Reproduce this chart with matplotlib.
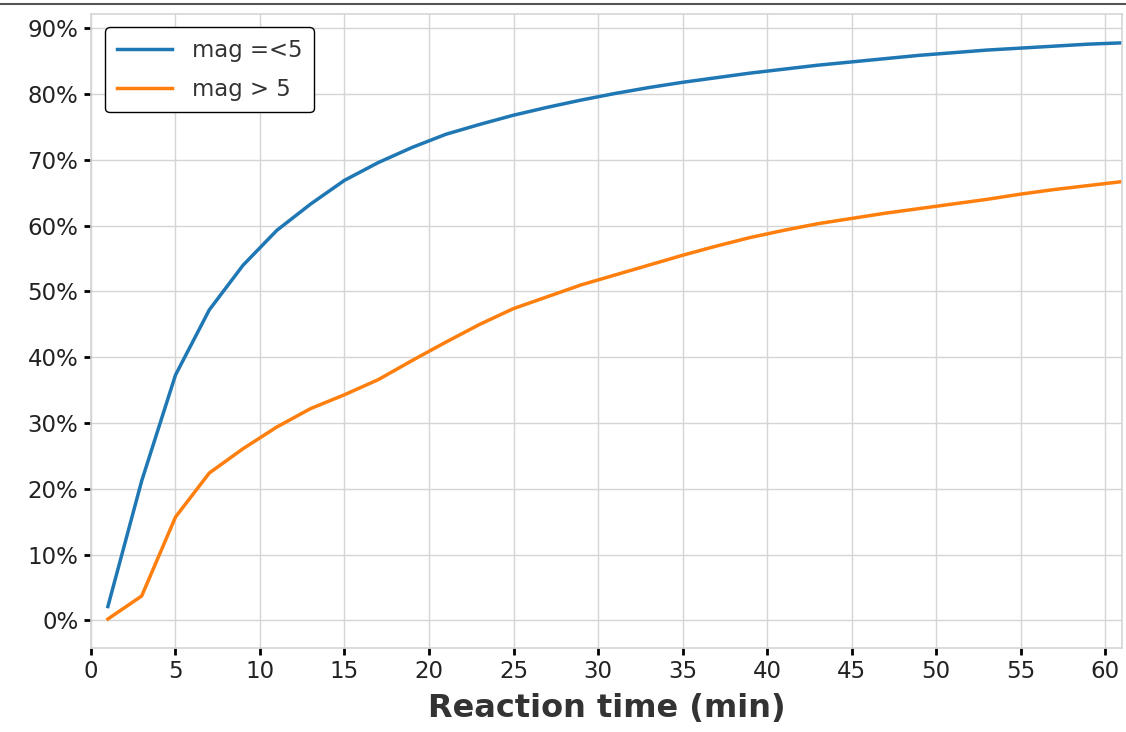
import matplotlib
matplotlib.use("Agg")
import matplotlib.pyplot as plt
from matplotlib.ticker import PercentFormatter
from matplotlib.lines import Line2D

reaction_time = list(range(1, 62, 2))
mag_le5 = [0.021, 0.212, 0.373, 0.472, 0.540, 0.593, 0.633, 0.669, 0.696, 0.719,
           0.739, 0.754, 0.768, 0.780, 0.791, 0.801, 0.810, 0.818, 0.825, 0.832,
           0.838, 0.844, 0.849, 0.854, 0.859, 0.863, 0.867, 0.870, 0.873, 0.876, 0.878]
mag_gt5 = [0.002, 0.037, 0.157, 0.224, 0.261, 0.294, 0.322, 0.343, 0.366, 0.395,
           0.423, 0.450, 0.474, 0.492, 0.510, 0.525, 0.540, 0.555, 0.569, 0.582,
           0.593, 0.603, 0.611, 0.619, 0.626, 0.633, 0.640, 0.648, 0.655, 0.661, 0.667]
labels = ["mag =<5", "mag > 5"]
x_ticks = list(range(0, 61, 5))
y_ticks = [i / 10 for i in range(0, 10)]

fig = plt.figure(figsize=(11.26, 7.32), dpi=100)
ax = fig.add_axes([0.0808, 0.1148, 0.9156, 0.8662])

ax.plot(reaction_time, mag_le5, color="#1f77b4", lw=2.5, label=labels[0])
ax.plot(reaction_time, mag_gt5, color="#ff7f0e", lw=2.5, label=labels[1])

ax.set_xlim(0, 61)
ax.set_ylim(-0.042, 0.922)
ax.set_xticks(x_ticks)
ax.set_yticks(y_ticks)
ax.yaxis.set_major_formatter(PercentFormatter(1.0, decimals=0))
ax.grid(True, color="#d5d5d5", lw=1.0)
ax.set_axisbelow(True)
for s in ax.spines.values():
    s.set_color("#d5d5d5")
    s.set_linewidth(1.2)
ax.tick_params(axis="both", labelsize=16.5, length=5, width=2, color="black", pad=4,
               labelcolor="#222222")
ax.set_xlabel("Reaction time (min)", fontsize=23, fontweight="bold", color="#333333", labelpad=7)

leg = ax.legend(loc="upper left", fontsize=16.4, frameon=True, fancybox=True,
                edgecolor="black", framealpha=1.0, borderpad=0.5, handlelength=2.4,
                handletextpad=0.9, labelspacing=0.72, bbox_to_anchor=(0.003, 0.997))
leg.get_frame().set_linewidth(1.0)
for t in leg.get_texts():
    t.set_color("#333333")

fig.add_artist(Line2D([0, 1], [0.994, 0.994], transform=fig.transFigure, color="#555555", lw=1.5))

fig.savefig("out.png", dpi=100)
